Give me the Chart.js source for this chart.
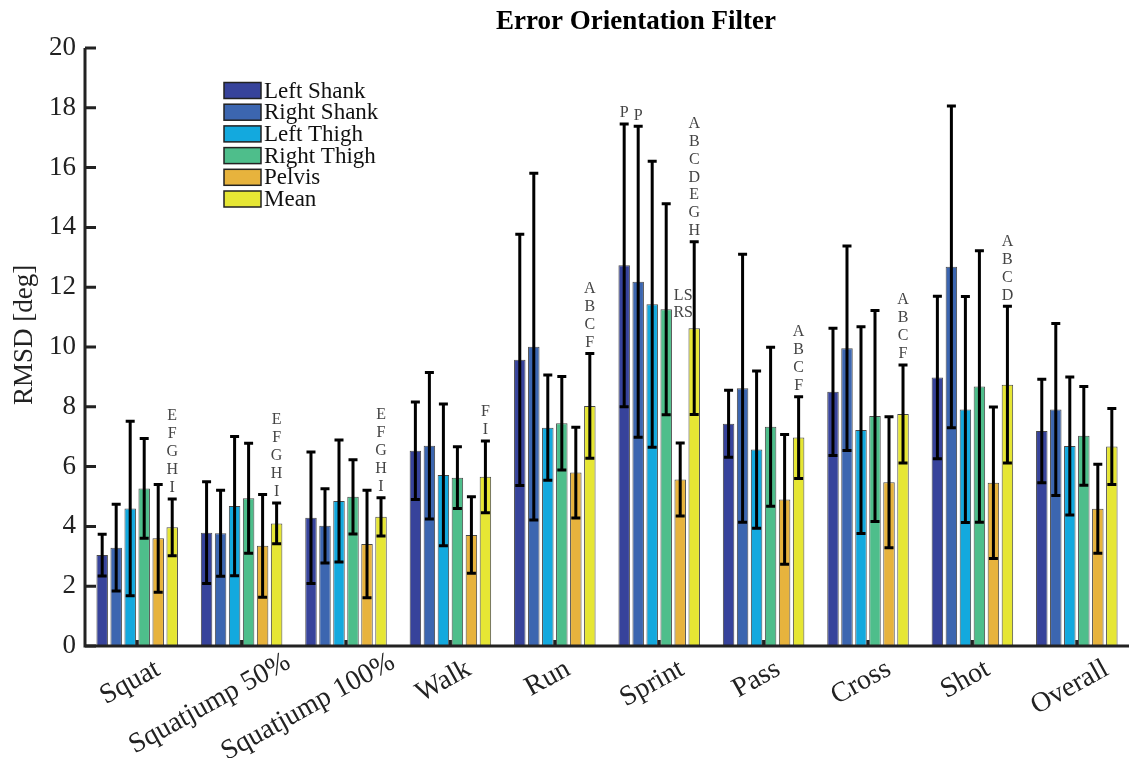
<!DOCTYPE html>
<html>
<head>
<meta charset="utf-8">
<script src="https://cdn.jsdelivr.net/npm/chart.js@4/dist/chart.umd.min.js"></script>
<style>
  body { margin: 0; background: #fff; }
  canvas { display: block; }
</style>
</head>
<body>
<canvas id="myChart" width="1129" height="758"></canvas>
<script>
const categories = ['Squat', 'Squatjump 50%', 'Squatjump 100%', 'Walk', 'Run', 'Sprint', 'Pass', 'Cross', 'Shot', 'Overall'];

const leftShank    = [3.04, 3.79, 4.29, 6.53, 9.57, 12.73, 7.43, 8.50, 8.98, 7.19];
const leftShankSd  = [0.70, 1.70, 2.20, 1.63, 4.20, 4.73, 1.12, 2.13, 2.72, 1.73];
const rightShank   = [3.29, 3.77, 4.02, 6.70, 10.01, 12.18, 8.62, 9.96, 12.68, 7.91];
const rightShankSd = [1.45, 1.44, 1.24, 2.45, 5.80, 5.20, 4.48, 3.42, 5.38, 2.88];
const leftThigh    = [4.60, 4.68, 4.85, 5.72, 7.30, 11.43, 6.57, 7.22, 7.91, 6.69];
const leftThighSd  = [2.92, 2.33, 2.04, 2.37, 1.76, 4.78, 2.63, 3.46, 3.78, 2.31];
const rightThigh   = [5.27, 4.94, 4.99, 5.63, 7.45, 11.26, 7.33, 7.69, 8.68, 7.03];
const rightThighSd = [1.67, 1.84, 1.24, 1.03, 1.56, 3.53, 2.66, 3.53, 4.54, 1.65];
const pelvis       = [3.60, 3.35, 3.41, 3.71, 5.80, 5.57, 4.90, 5.48, 5.46, 4.59];
const pelvisSd     = [1.80, 1.72, 1.80, 1.28, 1.52, 1.22, 2.17, 2.19, 2.53, 1.49];
const mean         = [3.97, 4.10, 4.32, 5.66, 8.03, 10.63, 6.97, 7.76, 8.74, 6.67];
const meanSd       = [0.95, 0.68, 0.64, 1.20, 1.75, 2.89, 1.37, 1.64, 2.62, 1.27];

// significance letters above the bars
const leftShankMarks  = [[], [], [], [], [], ['P'], [], [], [], []];
const rightShankMarks = [[], [], [], [], [], ['P'], [], [], [], []];
const pelvisMarks     = [[], [], [], [], [], ['LS', 'RS'], [], [], [], []];
const meanMarks = [
    ['E', 'F', 'G', 'H', 'I'],
    ['E', 'F', 'G', 'H', 'I'],
    ['E', 'F', 'G', 'H', 'I'],
    ['F', 'I'],
    ['A', 'B', 'C', 'F'],
    ['A', 'B', 'C', 'D', 'E', 'G', 'H'],
    ['A', 'B', 'C', 'F'],
    ['A', 'B', 'C', 'F'],
    ['A', 'B', 'C', 'D'],
    []
];

const yTicks = [0, 2, 4, 6, 8, 10, 12, 14, 16, 18, 20];

const serif = "'Liberation Serif', 'Times New Roman', serif";
const ink = '#222';

function makeSet(label, data, sd, marks, color) {
    return {
        label: label,
        data: data,
        sd: sd,
        marks: marks,
        backgroundColor: color,
        borderColor: '#4a4a4a',
        borderWidth: 1,
        categoryPercentage: 0.805,
        barPercentage: 0.82
    };
}

const overlay = {
    id: 'overlay',
    afterDatasetsDraw(chart) {
        const ctx = chart.ctx;
        const y = chart.scales.y;
        const x = chart.scales.x;
        const area = chart.chartArea;

        // error bars
        ctx.save();
        ctx.strokeStyle = '#000';
        ctx.lineWidth = 3;
        chart.data.datasets.forEach((ds, d) => {
            chart.getDatasetMeta(d).data.forEach((bar, i) => {
                const top = y.getPixelForValue(ds.data[i] + ds.sd[i]);
                const bot = y.getPixelForValue(ds.data[i] - ds.sd[i]);
                ctx.beginPath();
                ctx.moveTo(bar.x, top); ctx.lineTo(bar.x, bot);
                ctx.moveTo(bar.x - 4.5, top); ctx.lineTo(bar.x + 4.5, top);
                ctx.moveTo(bar.x - 4.5, bot); ctx.lineTo(bar.x + 4.5, bot);
                ctx.stroke();
            });
        });
        ctx.restore();

        // significance letters
        ctx.save();
        ctx.fillStyle = '#444';
        ctx.font = '16px ' + serif;
        ctx.textAlign = 'center';
        ctx.textBaseline = 'middle';
        const meanIdx = chart.data.datasets.length - 1;
        chart.data.datasets.forEach((ds, d) => {
            chart.getDatasetMeta(d).data.forEach((bar, i) => {
                const marks = ds.marks[i];
                if (!marks.length) return;
                const errTop = y.getPixelForValue(ds.data[i] + ds.sd[i]);
                let bottom = errTop - 11;
                let step = 18;
                let cx = bar.x;
                if (ds.label === 'Pelvis') {
                    const meanTop = y.getPixelForValue(chart.data.datasets[meanIdx].data[i]);
                    bottom = Math.min(bottom, meanTop - 15);
                    step = 17;
                    cx = bar.x + 3;
                }
                if (marks.length > 5) step = 17.8;
                marks.forEach((m, k) => {
                    ctx.fillText(m, cx, bottom - (marks.length - 1 - k) * step);
                });
            });
        });
        ctx.restore();

        // inward ticks
        ctx.save();
        ctx.strokeStyle = ink;
        ctx.lineWidth = 3;
        ctx.beginPath();
        yTicks.forEach(v => {
            const py = y.getPixelForValue(v);
            ctx.moveTo(area.left, py);
            ctx.lineTo(area.left + 11, py);
        });
        categories.forEach((c, i) => {
            const px = x.getPixelForValue(i);
            ctx.moveTo(px, area.bottom);
            ctx.lineTo(px, area.bottom - 6);
        });
        ctx.stroke();
        // axis lines on top of the bars
        ctx.beginPath();
        ctx.moveTo(area.left, area.top);
        ctx.lineTo(area.left, area.bottom);
        ctx.lineTo(chart.width, area.bottom);
        ctx.stroke();
        ctx.restore();
    },
    afterDraw(chart) {
        const ctx = chart.ctx;
        const x = chart.scales.x;
        const area = chart.chartArea;

        // title
        ctx.save();
        ctx.fillStyle = '#000';
        ctx.font = 'bold 27px ' + serif;
        ctx.textAlign = 'center';
        ctx.textBaseline = 'middle';
        ctx.fillText('Error Orientation Filter', 636, 22);
        ctx.restore();

        // y axis title
        ctx.save();
        ctx.fillStyle = ink;
        ctx.font = '27px ' + serif;
        ctx.textAlign = 'center';
        ctx.textBaseline = 'middle';
        ctx.translate(25, 335);
        ctx.rotate(-Math.PI / 2);
        ctx.fillText('RMSD [deg]', 0, 0);
        ctx.restore();

        // category labels, rotated
        ctx.save();
        ctx.fillStyle = ink;
        ctx.font = '28px ' + serif;
        ctx.textAlign = 'right';
        ctx.textBaseline = 'top';
        categories.forEach((c, i) => {
            const w = ctx.measureText(c).width;
            const raw = w * 0.44 - 14;
            const longLabel = raw > 40;
            const px = x.getPixelForValue(i) + Math.min(raw, 40);
            ctx.save();
            ctx.translate(px, area.bottom + (longLabel ? 2 : 9));
            ctx.rotate(-29 * Math.PI / 180);
            ctx.fillText(c, 0, 0);
            ctx.restore();
        });
        ctx.restore();

        // legend
        ctx.save();
        ctx.font = '23px ' + serif;
        ctx.textBaseline = 'middle';
        ctx.textAlign = 'left';
        chart.data.datasets.forEach((ds, d) => {
            const cy = 90.5 + d * 21.7;
            ctx.fillStyle = ds.backgroundColor;
            ctx.fillRect(224, cy - 8, 37, 16);
            ctx.strokeStyle = '#222';
            ctx.lineWidth = 1.5;
            ctx.strokeRect(224, cy - 8, 37, 16);
            ctx.fillStyle = '#111';
            ctx.fillText(ds.label, 264, cy + 1);
        });
        ctx.restore();
    }
};

const ctx1 = document.getElementById('myChart').getContext('2d');
new Chart(ctx1, {
    type: 'bar',
    data: {
        labels: categories,
        datasets: [
            makeSet('Left Shank', leftShank, leftShankSd, leftShankMarks, '#37439b'),
            makeSet('Right Shank', rightShank, rightShankSd, rightShankMarks, '#3c66b0'),
            makeSet('Left Thigh', leftThigh, leftThighSd, meanMarks.map(() => []), '#13a9de'),
            makeSet('Right Thigh', rightThigh, rightThighSd, meanMarks.map(() => []), '#4ebe8b'),
            makeSet('Pelvis', pelvis, pelvisSd, pelvisMarks, '#e7b33d'),
            makeSet('Mean', mean, meanSd, meanMarks, '#e6e634')
        ]
    },
    options: {
        responsive: false,
        animation: false,
        layout: { padding: { top: 48, right: 0, left: 0, bottom: 0 } },
        plugins: {
            legend: { display: false },
            tooltip: { enabled: false }
        },
        scales: {
            x: {
                grid: { display: false, drawTicks: false, tickLength: 0 },
                border: { display: false },
                ticks: { display: false },
                afterFit: s => { s.height = 112; }
            },
            y: {
                min: 0,
                max: 20,
                afterBuildTicks: s => { s.ticks = yTicks.map(v => ({ value: v })); },
                grid: { display: false, drawTicks: false, tickLength: 0 },
                border: { display: false },
                ticks: {
                    padding: 9,
                    color: ink,
                    font: { family: serif, size: 27 }
                },
                afterFit: s => { s.width = 85; }
            }
        }
    },
    plugins: [overlay]
});
</script>
</body>
</html>
